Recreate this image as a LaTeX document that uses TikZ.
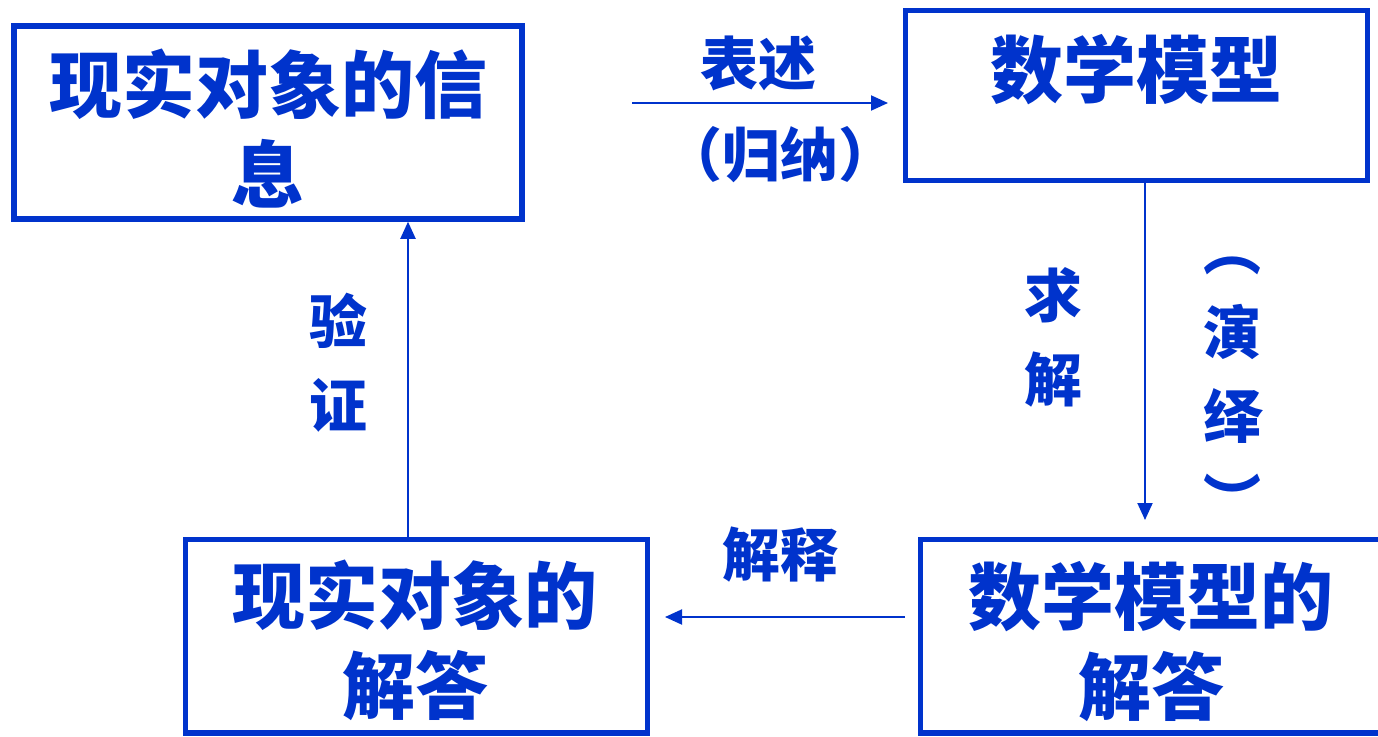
\documentclass[tikz,border=0pt]{standalone}
\usepackage{fontspec}
\newfontfamily\cjk{Noto Sans CJK SC}
\usetikzlibrary{arrows.meta}
\definecolor{dblue}{RGB}{0,51,204}
\tikzset{
 box/.style={draw=dblue, line width=5.5pt, rectangle, inner sep=0pt},
 big/.style={text=dblue, font=\cjk\bfseries\fontsize{73}{90}\selectfont, inner sep=0pt, align=center},
 lbl/.style={text=dblue, font=\cjk\bfseries\fontsize{58}{84}\selectfont, inner sep=0pt, align=center},
 conn/.style={draw=dblue, line width=2pt, -{Triangle[length=17pt,width=15pt]}},
}
\begin{document}
\begin{tikzpicture}[x=1pt,y=-1pt]
\useasboundingbox (0,0) rectangle (1378,736);
\clip (0,0) rectangle (1378,736);
\fill[white] (0,0) rectangle (1378,736);
% boxes
\node[box, minimum width=508pt, minimum height=193pt] (b1) at (268,122.5) {};
\node[box, minimum width=462pt, minimum height=170pt] (b2) at (1136.5,95.5) {};
\node[box, minimum width=462pt, minimum height=193.5pt] (b3) at (416.5,636) {};
\node[box, minimum width=470pt, minimum height=193.5pt] (b4) at (1155.5,636) {};
% box texts
\node[big] (t1) at (268,129) {现实对象的信\\息};
\node[big] (t2) at (1136,70) {数学模型};
\node[big] (t3) at (415,640) {现实对象的\\解答};
\node[big] (t4) at (1151,642) {数学模型的\\解答};
% labels
\node[lbl] (l1) at (758,63) {表述};
\node[lbl] (l2) at (780,155) {（归纳）};
\node[lbl] (l3) at (1053,337) {求\\解};
\node[lbl] (l4) at (1232,390) {︵\\演\\绎\\︶};
\node[lbl] (l5) at (338,363) {验\\证};
\node[lbl] (l6) at (780,555) {解释};
% connectors
\coordinate (a1s) at (632,103);
\coordinate (a1e) at (888,103);
\coordinate (a2e) at (1145,520);
\coordinate (a3s) at (905,617);
\coordinate (a3e) at (665,617);
\coordinate (a4s) at (408,537);
\draw[conn] (a1s) -- (a1e);
\draw[conn] (b2.south -| a2e) -- (a2e);
\draw[conn] (a3s) -- (a3e);
\draw[conn] (b3.north -| a4s) -- (b1.south -| a4s);
\end{tikzpicture}
\end{document}
